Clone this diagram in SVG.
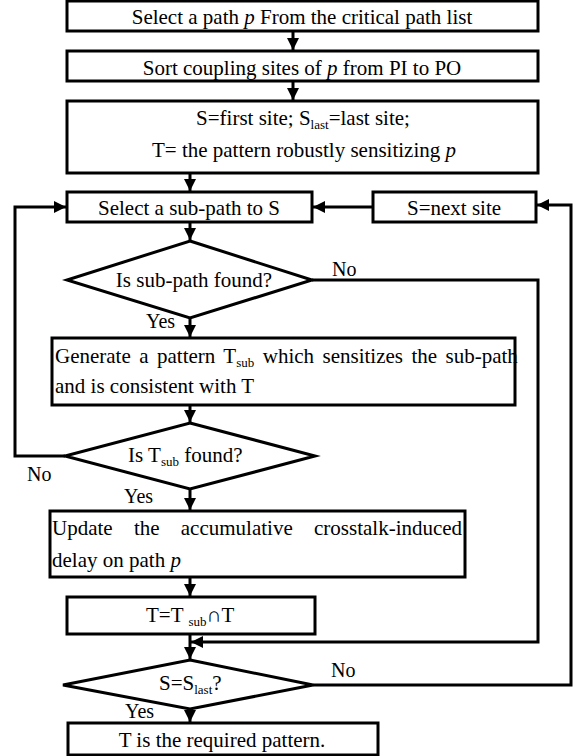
<svg xmlns="http://www.w3.org/2000/svg" width="578" height="756" viewBox="0 0 578 756">
<defs>
<style>
.b{fill:#fff;stroke:#000;stroke-width:3}
.c{fill:none;stroke:#000;stroke-width:3}
.t{font-family:"Liberation Serif","Times New Roman",serif;font-size:21px;fill:#000}
.m{text-anchor:middle}
.l{font-family:"Liberation Serif","Times New Roman",serif;font-size:20px;fill:#000}
.s{font-size:13px}
.i{font-style:italic}
</style>
<marker id="ah" viewBox="0 0 12 12" refX="12" refY="6" markerWidth="12" markerHeight="12" markerUnits="userSpaceOnUse" orient="auto"><path d="M0,0 L12,6 L0,12 z" fill="#000"/></marker>
</defs>
<rect width="578" height="756" fill="#fff"/>
<g id="connectors">
<line class="c" x1="293" y1="31" x2="293" y2="50" marker-end="url(#ah)"/>
<line class="c" x1="293" y1="81" x2="293" y2="100" marker-end="url(#ah)"/>
<line class="c" x1="190" y1="173" x2="190" y2="191" marker-end="url(#ah)"/>
<polyline class="c" points="65,456 15,456 15,207 66,207" marker-end="url(#ah)"/>
<line class="c" x1="373" y1="207" x2="313" y2="207" marker-end="url(#ah)"/>
<line class="c" x1="190" y1="222" x2="190" y2="240" marker-end="url(#ah)"/>
<polyline class="c" points="312,280 538,280 538,642 191,642" marker-end="url(#ah)"/>
<line class="c" x1="190" y1="318" x2="190" y2="337" marker-end="url(#ah)"/>
<line class="c" x1="190" y1="405" x2="190" y2="422" marker-end="url(#ah)"/>
<line class="c" x1="190" y1="489" x2="190" y2="510" marker-end="url(#ah)"/>
<line class="c" x1="190" y1="577" x2="190" y2="596" marker-end="url(#ah)"/>
<line class="c" x1="190" y1="634" x2="190" y2="659" marker-end="url(#ah)"/>
<polyline class="c" points="313,685 571,685 571,205 537,205" marker-end="url(#ah)"/>
<line class="c" x1="190" y1="709" x2="190" y2="722" marker-end="url(#ah)"/>
<text class="l" x="332" y="276">No</text>
<text class="l" x="146" y="328">Yes</text>
<text class="l" x="27" y="481">No</text>
<text class="l" x="124" y="503">Yes</text>
<text class="l" x="331" y="677">No</text>
<text class="l" x="125" y="718">Yes</text>
</g>
<g id="select-path">
<rect class="b" x="67" y="1" width="471" height="30"/>
<text class="t m" x="302" y="24">Select a path <tspan class="i">p</tspan> From the critical path list</text>
</g>
<g id="sort-sites">
<rect class="b" x="67" y="51" width="471" height="30"/>
<text class="t m" x="302" y="75">Sort coupling sites of <tspan class="i">p</tspan> from PI to PO</text>
</g>
<g id="init">
<rect class="b" x="67" y="101" width="471" height="72"/>
<text class="t m" x="303" y="125">S=first site; S<tspan class="s" dy="4">last</tspan><tspan dy="-4">=last site;</tspan></text>
<text class="t m" x="304" y="157">T= the pattern robustly sensitizing <tspan class="i">p</tspan></text>
</g>
<g id="select-subpath">
<rect class="b" x="67" y="192" width="245" height="30"/>
<text class="t m" x="189" y="215">Select a sub-path to S</text>
</g>
<g id="next-site">
<rect class="b" x="373" y="192" width="163" height="30"/>
<text class="t m" x="454" y="215">S=next site</text>
</g>
<g id="subpath-found">
<polygon class="b" points="190,241 312,280 190,318 67,280"/>
<text class="t m" x="194" y="287">Is sub-path found?</text>
</g>
<g id="generate">
<rect class="b" x="52" y="338" width="463" height="67"/>
<text class="t" x="55" y="363" style="word-spacing:3.2px">Generate a pattern T<tspan class="s" dy="4">sub</tspan><tspan dy="-4"> which sensitizes the sub-path</tspan></text>
<text class="t" x="55" y="393">and is consistent with T</text>
</g>
<g id="tsub-found">
<polygon class="b" points="190,423 315,456 190,489 65,456"/>
<text class="t" x="128" y="462">Is T<tspan class="s" dy="4">sub</tspan><tspan dy="-4"> found?</tspan></text>
</g>
<g id="update">
<rect class="b" x="50" y="511" width="415" height="66"/>
<text class="t" x="52" y="535" style="word-spacing:16px">Update the accumulative crosstalk-induced</text>
<text class="t" x="52" y="567">delay on path <tspan class="i">p</tspan></text>
</g>
<g id="intersect">
<rect class="b" x="67" y="597" width="248" height="37"/>
<text class="t" x="146" y="622">T=T <tspan class="s" dy="4">sub</tspan><tspan dy="-4">∩T</tspan></text>
</g>
<g id="is-last">
<polygon class="b" points="190,660 313,685 190,709 63,685"/>
<text class="t" x="159" y="690">S=S<tspan class="s" dy="4">last</tspan><tspan dy="-4">?</tspan></text>
</g>
<g id="done">
<rect class="b" x="68" y="723" width="310" height="32"/>
<text class="t m" x="222" y="747">T is the required pattern.</text>
</g>
</svg>
